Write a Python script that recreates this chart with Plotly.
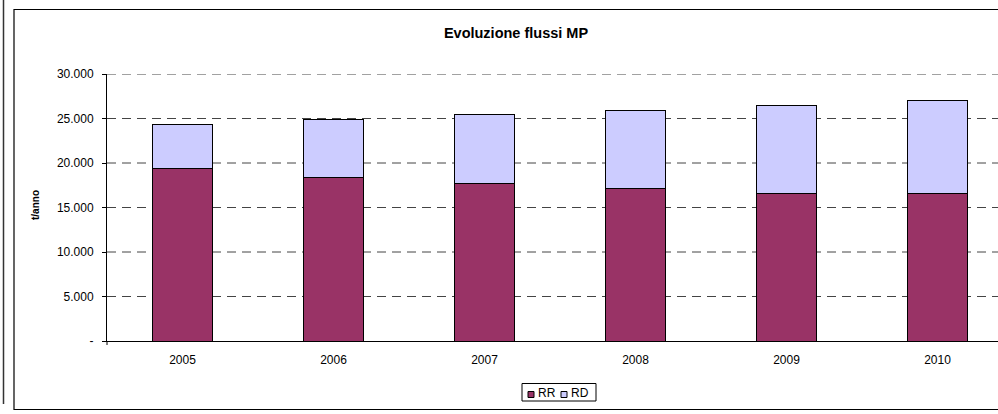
import plotly.graph_objects as go

years = ["2005", "2006", "2007", "2008", "2009", "2010"]
rr = [19400, 18400, 17700, 17100, 16550, 16550]
totals = [24300, 24900, 25400, 25900, 26500, 27000]
rd = [t - r for t, r in zip(totals, rr)]
y_tickvals = [0, 5000, 10000, 15000, 20000, 25000, 30000]
y_ticktext = ["-", "5.000", "10.000", "15.000", "20.000", "25.000", "30.000"]
series_names = ["RR", "RD"]
series_colors = ["#993366", "#CCCCFF"]

W, H = 998, 414
ML, MR, MT, MB = 107, 0, 74, 73
PW = W - ML - MR
PH = H - MT - MB
CAT_PX = 151.0

def px_x(px):
    return (px - ML) / PW

def px_y(py):
    return (H - MB - py) / PH

font_family = "Liberation Sans, Arial, sans-serif"

fig = go.Figure()
for name, vals, col in zip(series_names, [rr, rd], series_colors):
    fig.add_trace(go.Bar(x=years, y=vals, name=name, width=0.4,
                         marker=dict(color=col, line=dict(color="#000000", width=1))))

x_max = -0.5 + PW / CAT_PX

shapes = []
for v in y_tickvals[1:]:
    shapes.append(dict(type="line", xref="paper", yref="y", x0=0, x1=1, y0=v, y1=v,
                       line=dict(color="#444444", width=1, dash="9px,6px"), layer="below"))
# chart frame
shapes.append(dict(type="rect", xref="paper", yref="paper", x0=px_x(14), x1=px_x(1010), y0=px_y(9.5), y1=px_y(409.5),
                   line=dict(color="#000000", width=1.2), fillcolor="rgba(0,0,0,0)", layer="below"))
# outer left line
shapes.append(dict(type="line", xref="paper", yref="paper", x0=px_x(3.5), x1=px_x(3.5), y0=px_y(0), y1=px_y(404),
                   line=dict(color="#333333", width=1.5)))
# small tick below axis origin
shapes.append(dict(type="line", xref="paper", yref="paper", x0=0, x1=0, y0=0, y1=px_y(345),
                   line=dict(color="#000000", width=1)))

annotations = []
# manual legend
shapes.append(dict(type="rect", xref="paper", yref="paper", x0=px_x(522), x1=px_x(596), y0=px_y(383.5), y1=px_y(401),
                   line=dict(color="#000000", width=1), fillcolor="white"))
sym_x = [528, 561]
for sx, name, col in zip(sym_x, series_names, series_colors):
    shapes.append(dict(type="rect", xref="paper", yref="paper", x0=px_x(sx), x1=px_x(sx + 6), y0=px_y(391.5), y1=px_y(397.5),
                       line=dict(color="#000000", width=1), fillcolor=col))
    annotations.append(dict(text=name, xref="paper", yref="paper", x=px_x(sx + 8), y=px_y(392.5), xanchor="left",
                            yanchor="middle", showarrow=False, font=dict(size=12, family=font_family)))
# y axis title
annotations.append(dict(text="<b>t/anno</b>", xref="paper", yref="paper", x=px_x(35), y=px_y(205), textangle=-90,
                        xanchor="center", yanchor="middle", showarrow=False, font=dict(size=10, family=font_family)))

fig.update_layout(
    width=W, height=H,
    margin=dict(l=ML, r=MR, t=MT, b=MB, autoexpand=False),
    paper_bgcolor="white", plot_bgcolor="white",
    barmode="stack",
    font=dict(family=font_family, size=12, color="#000000"),
    title=dict(text="<b>Evoluzione flussi MP</b>", x=px_x(516), xref="paper", xanchor="center",
               y=1 - 33 / H, yanchor="middle", font=dict(size=14.5, family=font_family)),
    showlegend=False,
    shapes=shapes,
    annotations=annotations,
)
fig.update_xaxes(type="category", range=[-0.5, x_max], showline=True, linecolor="#000000", linewidth=1,
                 ticks="", showgrid=False, tickfont=dict(size=12), ticklabelstandoff=8, automargin=False)
fig.update_yaxes(range=[0, 30000], tickvals=y_tickvals, ticktext=y_ticktext, showline=True,
                 linecolor="#000000", linewidth=1, ticks="outside", ticklen=4, tickcolor="#000000",
                 showgrid=False, zeroline=False, tickfont=dict(size=12), automargin=False, ticklabelstandoff=6)
fig.write_html("out.html", config={"displayModeBar": False},
               post_script="document.body.style.margin='0px';document.body.style.overflow='hidden';")
